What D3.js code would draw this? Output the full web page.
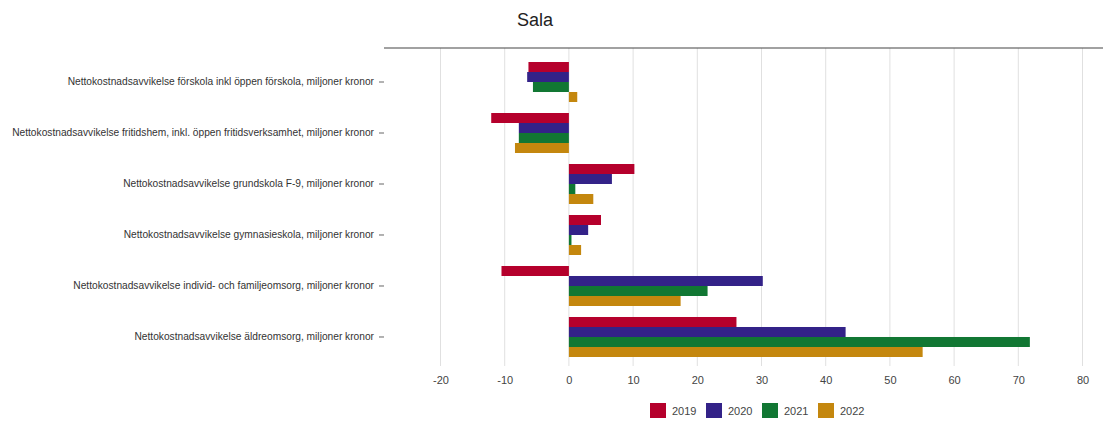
<!DOCTYPE html>
<html><head><meta charset="utf-8">
<script src="https://cdn.jsdelivr.net/npm/d3@7"></script>
<style>body{margin:0;background:#fff;font-family:"Liberation Sans",Arial,sans-serif;}</style>
</head><body><svg id="c" width="1103" height="421"></svg>
<script>
const categories = [
  "Nettokostnadsavvikelse förskola inkl öppen förskola, miljoner kronor",
  "Nettokostnadsavvikelse fritidshem, inkl. öppen fritidsverksamhet, miljoner kronor",
  "Nettokostnadsavvikelse grundskola F-9, miljoner kronor",
  "Nettokostnadsavvikelse gymnasieskola, miljoner kronor",
  "Nettokostnadsavvikelse individ- och familjeomsorg, miljoner kronor",
  "Nettokostnadsavvikelse äldreomsorg, miljoner kronor"
];
const years = ["2019", "2020", "2021", "2022"];
const v2019 = [-6.3, -12.1, 10.2, 5.0, -10.5, 26.1];
const v2020 = [-6.5, -7.8, 6.7, 3.0, 30.2, 43.1];
const v2021 = [-5.6, -7.8, 1.0, 0.4, 21.6, 71.8];
const v2022 = [1.3, -8.4, 3.8, 1.9, 17.4, 55.1];
const xTicks = [-20, -10, 0, 10, 20, 30, 40, 50, 60, 70, 80];
const colors = ["#b5002c", "#332288", "#117733", "#c4870e"];
const series = [v2019, v2020, v2021, v2022];

const svg = d3.select("#c");
const x = d3.scaleLinear().domain([-20, 80]).range([440.5, 1082.5]);
const y = d3.scaleBand().domain(categories).range([56.5, 362.5]).paddingInner(0.2157).paddingOuter(0.108);
const yy = d3.scaleBand().domain(years).range([0, y.bandwidth()]);

// gridlines
svg.append("g").selectAll("line").data(xTicks).join("line")
  .attr("x1", d => x(d)).attr("x2", d => x(d))
  .attr("y1", 48).attr("y2", 366)
  .attr("stroke", "#e0e0e0").attr("stroke-width", 1);

// bars
categories.forEach((c, i) => {
  series.forEach((s, j) => {
    const v = s[i];
    svg.append("rect")
      .attr("x", x(Math.min(0, v)))
      .attr("y", y(c) + yy(years[j]))
      .attr("width", Math.abs(x(v) - x(0)))
      .attr("height", yy.bandwidth())
      .attr("fill", colors[j]);
  });
});

// top line
svg.append("line").attr("x1", 384).attr("x2", 1103).attr("y1", 48).attr("y2", 48)
  .attr("stroke", "#444").attr("stroke-width", 1.2);

// x axis labels
const xa = svg.append("g").attr("transform", "translate(0,366)")
  .call(d3.axisBottom(x).tickValues(xTicks).tickSize(0).tickPadding(10).tickFormat(d => d));
xa.select(".domain").remove();
xa.selectAll("text").attr("fill", "#444").attr("font-size", 11).attr("font-family", "Liberation Sans, Arial, sans-serif");

// y axis
const ya = svg.append("g").attr("transform", "translate(384,0)")
  .call(d3.axisLeft(y).tickSize(5).tickPadding(5));
ya.select(".domain").remove();
ya.selectAll(".tick line").attr("stroke", "#666");
ya.selectAll("text").attr("fill", "#333").attr("font-size", 10.2).attr("font-family", "Liberation Sans, Arial, sans-serif");

// title
svg.append("text").attr("x", 517).attr("y", 26).text("Sala")
  .attr("font-size", 18).attr("fill", "#222");

// legend
const lg = svg.append("g").selectAll("g").data(years).join("g")
  .attr("transform", (d, i) => `translate(${650 + i * 56},403)`);
lg.append("rect").attr("width", 16).attr("height", 15).attr("fill", (d, i) => colors[i]);
lg.append("text").attr("x", 22).attr("y", 11.5).text(d => d)
  .attr("font-size", 11).attr("fill", "#444");
</script></body></html>
